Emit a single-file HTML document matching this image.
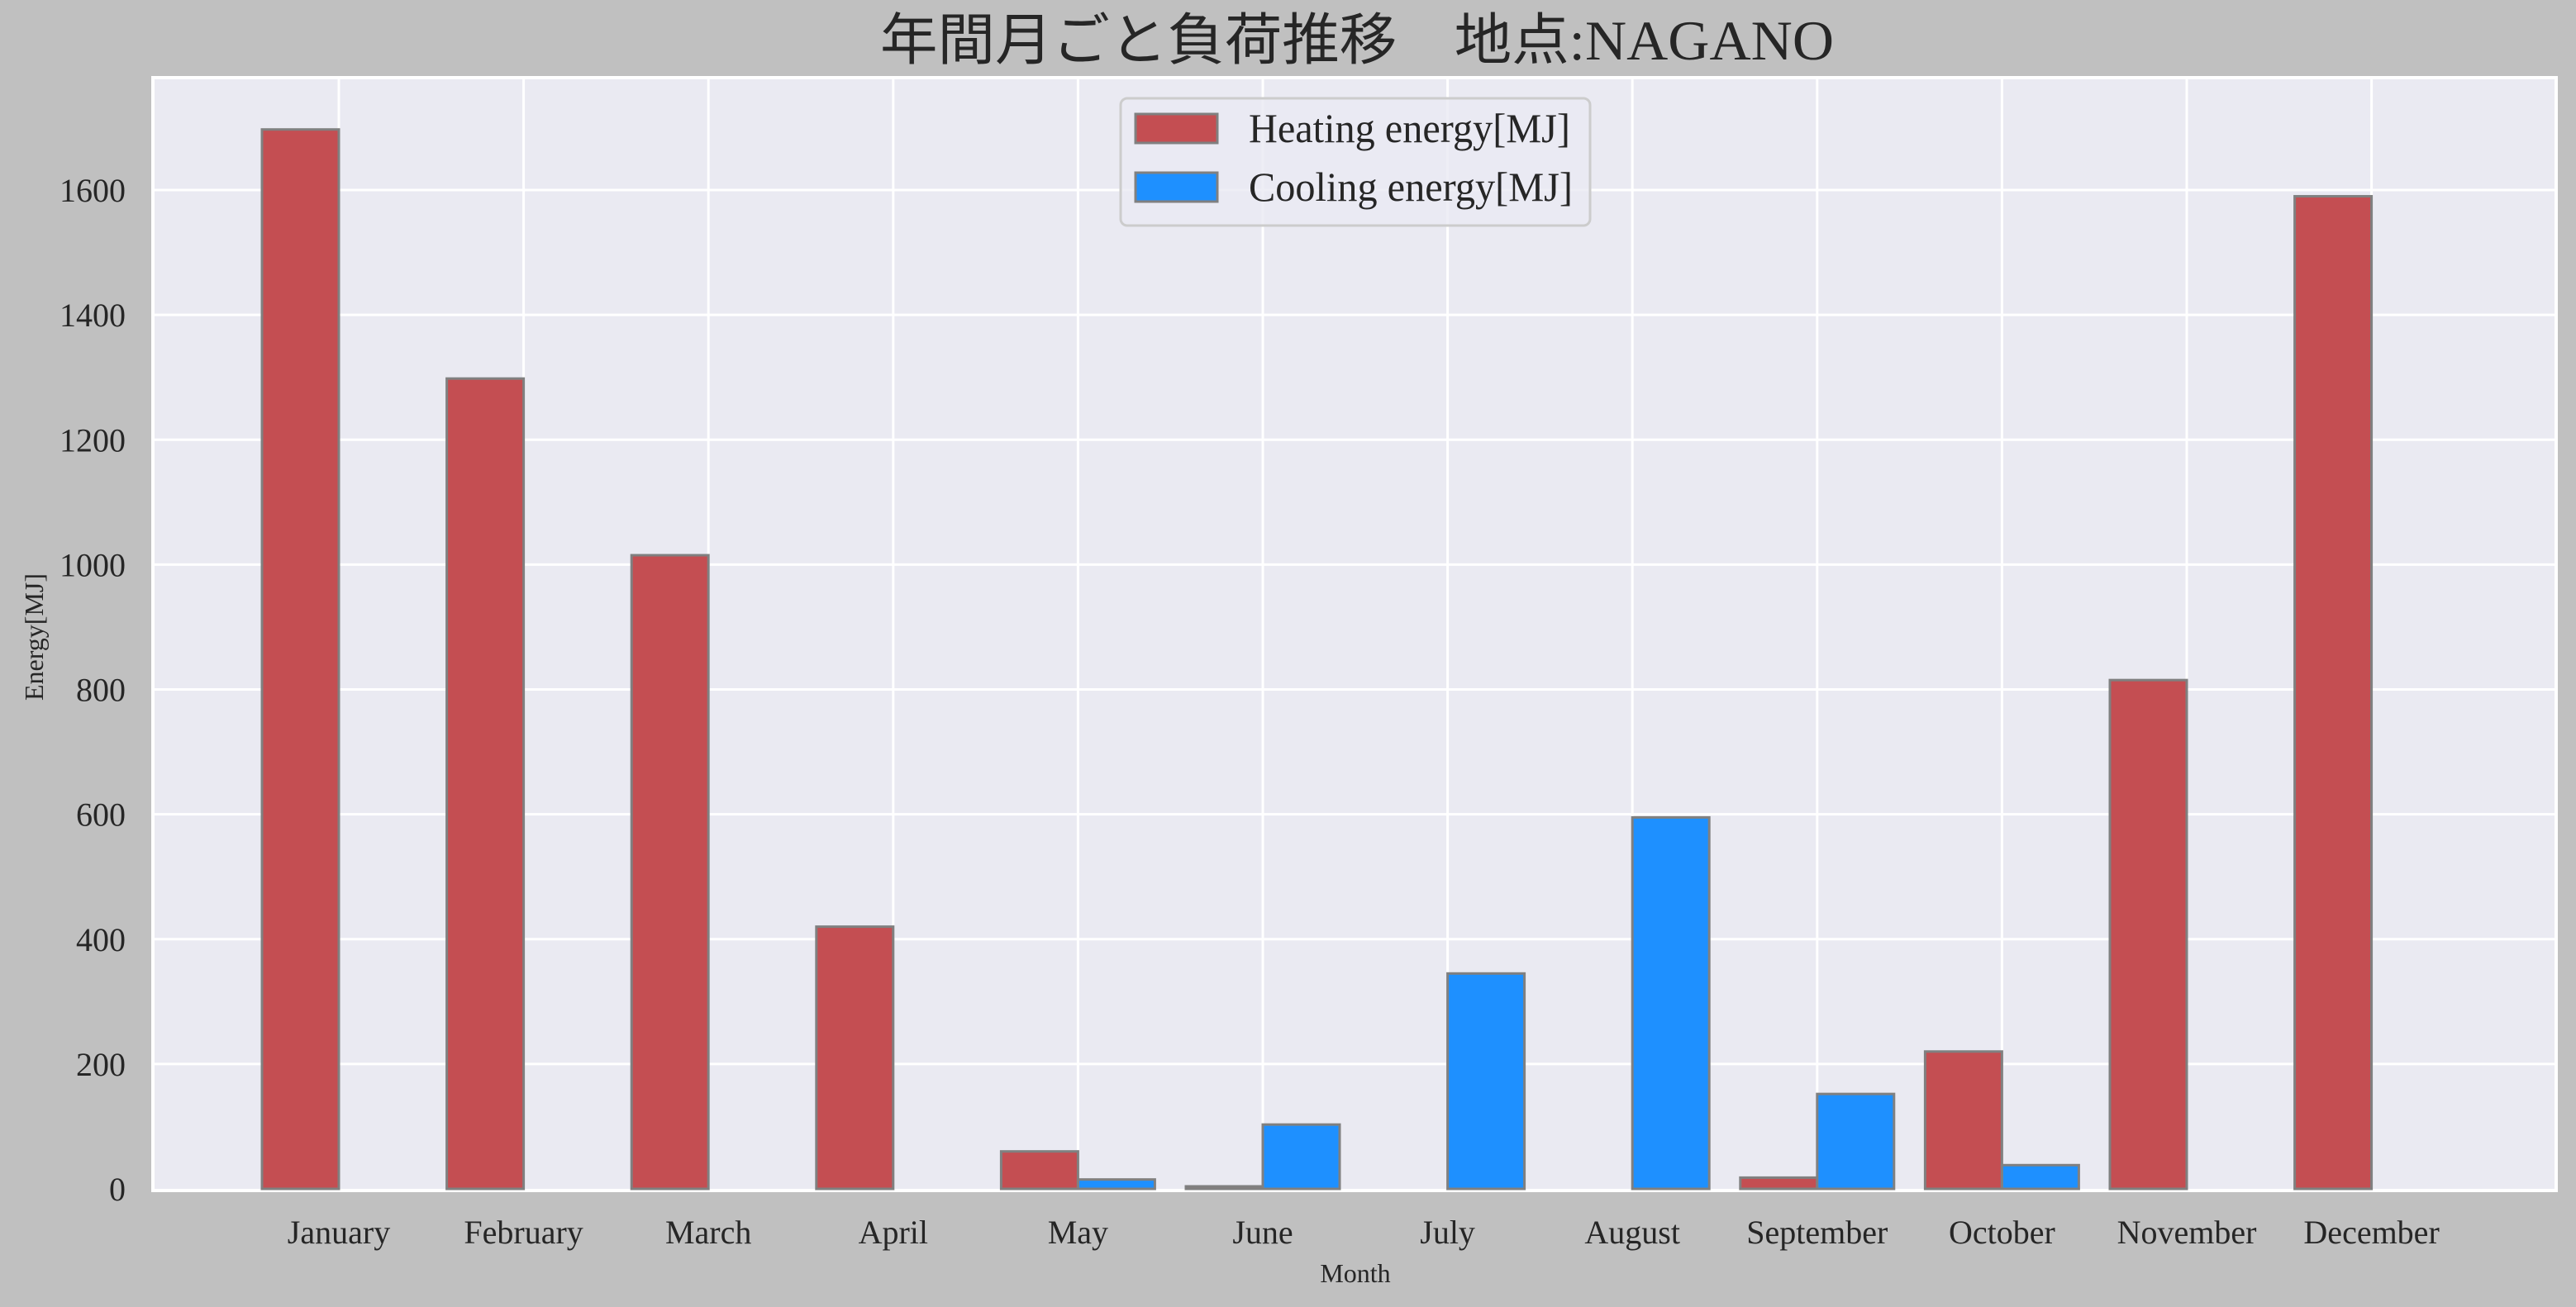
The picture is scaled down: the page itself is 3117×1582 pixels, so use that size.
<!DOCTYPE html>
<html><head><meta charset="utf-8"><style>
html,body{margin:0;padding:0;background:#c0c0c0;}
svg{display:block;font-family:"Liberation Serif","Noto Serif CJK SC",serif;}
</style></head><body>
<svg id="chart" width="3117" height="1582" viewBox="0 0 3117 1582" xmlns="http://www.w3.org/2000/svg">
<rect x="0" y="0" width="3117" height="1582" fill="#c0c0c0"/>
<text x="1642" y="72" text-anchor="middle" font-size="68" fill="#262626" textLength="1154" lengthAdjust="spacingAndGlyphs" font-family="'Liberation Serif','Noto Sans CJK JP',sans-serif">年間月ごと負荷推移　地点:NAGANO</text>
<rect x="185" y="94" width="2908" height="1347" fill="#eaeaf2" stroke="#ffffff" stroke-width="4"/>
<g id="grid"></g>
<g id="bars"></g>
<g id="yticks"></g>
<g id="xticks"></g>
<text x="0" y="0" transform="translate(52,771) rotate(-90)" text-anchor="middle" font-size="32" fill="#262626">Energy[MJ]</text>
<text x="1640" y="1552" text-anchor="middle" font-size="32" fill="#262626">Month</text>
<g>
<rect x="1356" y="119" width="568" height="154" rx="8" fill="#eaeaf2" fill-opacity="0.8" stroke="#cccccc" stroke-width="3"/>
<rect x="1374" y="138" width="99" height="35" fill="#c44e52" stroke="#808080" stroke-width="3"/>
<text x="1511" y="172" font-size="50" fill="#262626" textLength="389" lengthAdjust="spacingAndGlyphs">Heating energy[MJ]</text>
<rect x="1374" y="209" width="99" height="35" fill="#1e90ff" stroke="#808080" stroke-width="3"/>
<text x="1511" y="243" font-size="50" fill="#262626" textLength="392" lengthAdjust="spacingAndGlyphs">Cooling energy[MJ]</text>
</g>
</svg>
<script>
const months = ["January","February","March","April","May","June","July","August","September","October","November","December"];
const heating = [1697,1298,1015,420,60,4,0,0,18,220,815,1590];
const cooling = [0,0,0,0,15,103,345,595,152,38,0,0];
const yTicks = [0,200,400,600,800,1000,1200,1400,1600];

const NS = "http://www.w3.org/2000/svg";
const y0 = 1439, pxPerUnit = 1209/1600;
function yScale(v){ return y0 - v*pxPerUnit; }
function xScale(i){ return 410 + 223.6*i; }
const barW = 93;

function mk(tag, attrs, parent){
  const e = document.createElementNS(NS, tag);
  for (const k in attrs) e.setAttribute(k, attrs[k]);
  parent.appendChild(e);
  return e;
}
const grid = document.getElementById('grid');
const bars = document.getElementById('bars');
const yt = document.getElementById('yticks');
const xt = document.getElementById('xticks');

yTicks.forEach(v=>{
  const y = yScale(v);
  if (v>0) {
    const l = mk('line',{x1:187,x2:3091,y1:y,y2:y,stroke:'#ffffff','stroke-width':3},grid);
    
    
  }
  const t = mk('text',{x:152,y:y+14,'text-anchor':'end','font-size':40,fill:'#262626'},yt);
  t.textContent = v;
  
  
});
months.forEach((m,i)=>{
  const x = xScale(i);
  const l = mk('line',{x1:x,x2:x,y1:96,y2:1439,stroke:'#ffffff','stroke-width':3},grid);
  
  
  const hv = heating[i], cv = cooling[i];
  if (hv>0){
    const r = mk('rect',{x:x-barW,y:yScale(hv),width:barW,height:y0-yScale(hv),fill:'#c44e52',stroke:'#808080','stroke-width':3},bars);
    
    
  }
  if (cv>0){
    const r = mk('rect',{x:x,y:yScale(cv),width:barW,height:y0-yScale(cv),fill:'#1e90ff',stroke:'#808080','stroke-width':3},bars);
    
    
  }
  const t = mk('text',{x:x,y:1505,'text-anchor':'middle','font-size':40,fill:'#262626'},xt);
  t.textContent = m;
  
  
});
</script>
</body></html>
